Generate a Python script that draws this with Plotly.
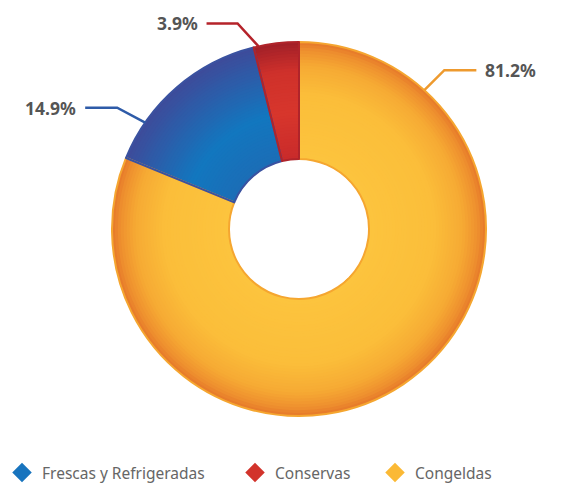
import math

import plotly.graph_objects as go

# data
categories = ["Congeladas", "Frescas y Refrigeradas", "Conservas"]
shares = [81.2, 14.9, 3.9]
legend_order = ["Frescas y Refrigeradas", "Conservas", "Congeladas"]
legend_names = {"Frescas y Refrigeradas": "Frescas y Refrigeradas",
                "Conservas": "Conservas",
                "Congeladas": "Congeldas"}

# style
W, H = 563, 484
CX, CY = 299, 229          # pie centre in page pixels (y down)
R_OUT, R_HOLE = 187, 70
N_RINGS = 40
FONT = "Noto Sans"

# radial gradient stops per slice: (t, colour), t=0 at hole, t=1 at rim
gradients = {
    "Congeladas": [(0, "#FCC43E"), (0.55, "#FBBE3A"), (0.8, "#F6AA34"), (0.93, "#EE8F2E"), (1, "#E5782A")],
    "Frescas y Refrigeradas": [(0, "#1C6DB6"), (0.4, "#1277BF"), (1, "#3E4B9A")],
    "Conservas": [(0, "#C92B2B"), (0.4, "#D7362C"), (0.75, "#CF312B"), (1, "#A11F28")],
}
border = {"Congeladas": "#F5A630", "Frescas y Refrigeradas": "#3A52A0", "Conservas": "#B0242A"}
legend_col = {"Congeladas": "#FBB935", "Frescas y Refrigeradas": "#1874BE", "Conservas": "#D2332B"}
leader_col = {"Congeladas": "#EE9A2E", "Frescas y Refrigeradas": "#2E5BA8", "Conservas": "#B5232A"}
# where the leader touches the slice (fraction of slice), elbow offset and run (px)
leader = {
    "Congeladas": dict(frac=0.144, dx=20, dy=-20, run=32),
    "Frescas y Refrigeradas": dict(frac=0.23, dx=-28, dy=-15, run=-32),
    "Conservas": dict(frac=0.11, dx=-21, dy=-23, run=-31),
}
# left edge of each legend entry's text (px)
legend_text_x = [42, 275, 415]
LEGEND_Y = 473


def hex_rgb(h):
    return [int(h[i:i + 2], 16) for i in (1, 3, 5)]


def grad(stops, t):
    for (t0, c0), (t1, c1) in zip(stops, stops[1:]):
        if t <= t1:
            f = (t - t0) / (t1 - t0)
            a, b = hex_rgb(c0), hex_rgb(c1)
            return "rgb({},{},{})".format(*[round(a[k] + (b[k] - a[k]) * f) for k in range(3)])
    return stops[-1][1]


def domain(r):
    return dict(x=[(CX - r) / W, (CX + r) / W],
                y=[(H - CY - r) / H, (H - CY + r) / H])


def px(x, y):
    return x / W, 1 - y / H


fig = go.Figure()

# concentric rings fake the radial shading, outer first
for i in reversed(range(N_RINGS)):
    r = R_HOLE + (R_OUT - R_HOLE) * (i + 1) / N_RINGS
    t = (i + 0.5) / N_RINGS
    fig.add_trace(go.Pie(
        labels=categories, values=shares, sort=False, direction="clockwise", rotation=0,
        hole=R_HOLE / r, domain=domain(r), textinfo="none", hoverinfo="skip",
        showlegend=False,
        marker=dict(colors=[grad(gradients[c], t) for c in categories], line=dict(width=0)),
    ))

# slice outlines
fig.add_trace(go.Pie(
    labels=categories, values=shares, sort=False, direction="clockwise", rotation=0,
    hole=R_HOLE / R_OUT, domain=domain(R_OUT), textinfo="none", showlegend=False,
    marker=dict(colors=["rgba(0,0,0,0)"] * len(categories),
                line=dict(color=[border[c] for c in categories], width=2)),
))

# leader lines and percentage labels
total = sum(shares)
start = 0
for cat, v in zip(categories, shares):
    cfg = leader[cat]
    ang = math.radians((start + v * cfg["frac"]) / total * 360)
    start += v
    x0 = CX + R_OUT * math.sin(ang)
    y0 = CY - R_OUT * math.cos(ang)
    x1, y1 = x0 + cfg["dx"], y0 + cfg["dy"]
    x2 = x1 + cfg["run"]
    pts = [px(x0, y0), px(x1, y1), px(x2, y1)]
    fig.add_shape(type="path", xref="paper", yref="paper",
                  path="M {} {} L {} {} L {} {}".format(*[c for p in pts for c in p]),
                  line=dict(color=leader_col[cat], width=2.5))
    right = cfg["run"] > 0
    fig.add_annotation(x=pts[2][0] + (7 if right else -7) / W, y=pts[2][1],
                       xref="paper", yref="paper", showarrow=False,
                       xanchor="left" if right else "right", yanchor="middle",
                       text="<b>{:.1f}%</b>".format(v),
                       font=dict(family=FONT, size=17.5, color="#555555"))

# legend entries with diamond markers, one legend box each
legend_layout = {}
for k, (cat, tx) in enumerate(zip(legend_order, legend_text_x)):
    lg = "legend" if k == 0 else "legend{}".format(k + 1)
    fig.add_trace(go.Scatter(
        x=[None], y=[None], mode="markers", name=legend_names[cat], legend=lg,
        marker=dict(symbol="diamond", size=15, color=legend_col[cat]),
    ))
    legend_layout[lg] = dict(orientation="h", x=(tx - 40) / W, y=1 - LEGEND_Y / H,
                             xanchor="left", yanchor="middle", bgcolor="rgba(0,0,0,0)",
                             font=dict(family=FONT, size=15.5, color="#666666"))

fig.update_layout(
    width=W, height=H,
    margin=dict(l=0, r=0, t=0, b=0, autoexpand=False),
    paper_bgcolor="white", plot_bgcolor="white",
    xaxis=dict(visible=False), yaxis=dict(visible=False),
    font=dict(family=FONT, color="#666666"),
    **legend_layout,
)

fig.write_html("out.html", config={"displayModeBar": False},
               post_script="document.body.style.margin='0px';")
